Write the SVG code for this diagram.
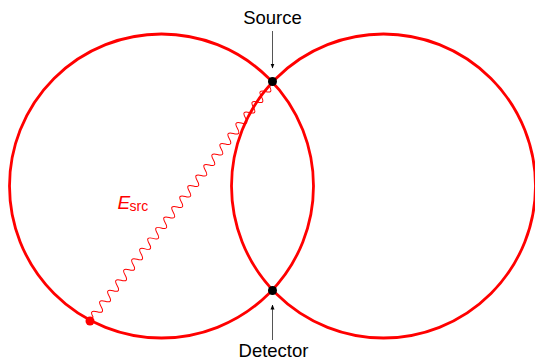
<svg xmlns="http://www.w3.org/2000/svg" width="535" height="362" viewBox="0 0 535 362">
<style>
.circ{fill:none;stroke:#ff0000;stroke-width:2.8}
.lbl{font-family:"Liberation Sans",Arial,sans-serif;font-size:18.5px;fill:#000}
.ptr{stroke:#555;stroke-width:1;fill:none;marker-end:url(#ah)}
.red{fill:#ff0000;font-family:"Liberation Sans",Arial,sans-serif}
</style>
<defs>
<marker id="ah" viewBox="0 0 10 10" refX="9" refY="5" markerWidth="5" markerHeight="5" markerUnits="userSpaceOnUse" orient="auto">
<path d="M0,1 L10,5 L0,9 Z" fill="#000"/>
</marker>
</defs>
<g id="circle-left"><circle class="circ" cx="161.5" cy="186" r="152"/></g>
<g id="circle-right"><circle class="circ" cx="383.5" cy="186" r="152"/></g>
<g id="connectors">
<g id="esrc-wave" transform="translate(90,321) rotate(-52.6)">
<path fill="none" stroke="#ff0000" stroke-width="1" d="M0,0 L5,0 q3.3,-8 6.6,0 t6.6,0 t6.6,0 t6.6,0 t6.6,0 t6.6,0 t6.6,0 t6.6,0 t6.6,0 t6.6,0 t6.6,0 t6.6,0 t6.6,0 t6.6,0 t6.6,0 t6.6,0 t6.6,0 t6.6,0 t6.6,0 t6.6,0 t6.6,0 t6.6,0 t6.6,0 t6.6,0 t6.6,0 t6.6,0 t6.6,0 t6.6,0 t6.6,0 t6.6,0 t6.6,0 t6.6,0 t6.6,0 t6.6,0 t6.6,0 t6.6,0 t6.6,0 t6.6,0 t6.6,0 t6.6,0 t6.6,0 t6.6,0 t6.6,0 t6.6,0 L300.5,0"/>
</g>
<line class="ptr" x1="272.5" y1="31" x2="272.5" y2="68"/>
<line class="ptr" x1="272.5" y1="340" x2="272.5" y2="305"/>
</g>
<g id="source">
<circle cx="272.5" cy="81.5" r="4.5" fill="#000"/>
<text class="lbl" x="272.5" y="23.5" text-anchor="middle">Source</text>
</g>
<g id="detector">
<circle cx="272.5" cy="290.5" r="4.5" fill="#000"/>
<text class="lbl" x="273.5" y="357" text-anchor="middle">Detector</text>
</g>
<g id="emitter">
<circle cx="90" cy="321" r="4.5" fill="#ff0000"/>
</g>
<g id="esrc-label">
<text class="red" x="117.5" y="208.5" font-size="19" font-style="italic">E</text>
<text class="red" x="129.5" y="211" font-size="14">src</text>
</g>
</svg>
